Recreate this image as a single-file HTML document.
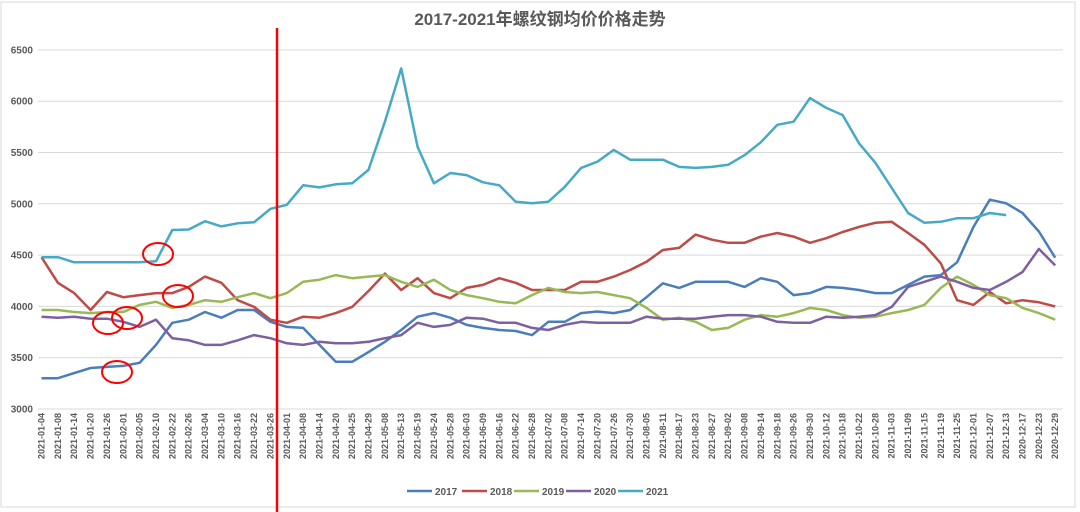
<!DOCTYPE html>
<html><head><meta charset="utf-8"><style>
html,body{margin:0;padding:0;background:#fff;}
svg{display:block;font-family:"Liberation Sans","Noto Sans CJK SC",sans-serif;}
</style></head><body>
<svg id="chart" width="1080" height="512" viewBox="0 0 1080 512" xmlns="http://www.w3.org/2000/svg">
<rect x="1" y="2" width="1074" height="505" fill="#fff" stroke="#d9d9d9" stroke-width="1"/>
<text x="540" y="25" text-anchor="middle" font-size="17" font-weight="bold" fill="#595959">2017-2021年螺纹钢均价价格走势</text>
<g id="grid"></g>
<g id="yaxis"></g>
<g id="xaxis"></g>
<g id="series"></g>
<g id="annot"></g>
<g id="legend"></g>
</svg>
<script>
const categories = ["2021-01-04","2021-01-08","2021-01-14","2021-01-20","2021-01-26","2021-02-01","2021-02-05","2021-02-10","2021-02-22","2021-02-26","2021-03-04","2021-03-10","2021-03-16","2021-03-22","2021-03-26","2021-04-01","2021-04-08","2021-04-14","2021-04-20","2021-04-25","2021-04-29","2021-05-08","2021-05-13","2021-05-19","2021-05-24","2021-05-28","2021-06-03","2021-06-09","2021-06-16","2021-06-22","2021-06-28","2021-07-02","2021-07-08","2021-07-14","2021-07-20","2021-07-26","2021-07-30","2021-08-05","2021-08-11","2021-08-17","2021-08-23","2021-08-27","2021-09-02","2021-09-08","2021-09-14","2021-09-18","2021-09-26","2021-09-30","2021-10-12","2021-10-18","2021-10-22","2021-10-28","2021-11-03","2021-11-09","2021-11-15","2021-11-19","2021-11-25","2021-12-01","2021-12-07","2021-12-13","2020-12-17","2020-12-23","2020-12-29"];
const s2017 = [3300,3300,3350,3400,3410,3420,3450,3625,3840,3870,3945,3890,3965,3965,3850,3800,3790,3625,3460,3460,3555,3655,3770,3900,3935,3890,3820,3790,3770,3760,3720,3850,3850,3935,3950,3935,3965,4090,4225,4180,4240,4240,4240,4190,4275,4240,4110,4130,4190,4180,4160,4130,4130,4210,4290,4305,4430,4775,5040,5005,4910,4730,4475];
const s2018 = [4480,4230,4130,3965,4140,4090,4110,4130,4130,4190,4290,4230,4060,3995,3870,3840,3900,3890,3935,3995,4150,4320,4160,4275,4130,4080,4180,4210,4275,4230,4160,4160,4160,4240,4240,4290,4355,4435,4550,4570,4700,4650,4620,4620,4680,4715,4680,4620,4665,4725,4775,4815,4825,4715,4600,4420,4060,4015,4140,4030,4060,4040,4000];
const s2019 = [3965,3965,3945,3935,3945,3945,4015,4045,3985,4015,4060,4045,4090,4130,4080,4130,4240,4260,4305,4275,4290,4305,4240,4190,4260,4160,4110,4080,4045,4030,4110,4180,4140,4130,4140,4110,4080,3985,3870,3890,3850,3770,3790,3870,3915,3900,3935,3985,3965,3915,3890,3900,3935,3965,4015,4180,4290,4210,4110,4080,3985,3935,3870];
const s2020 = [3900,3890,3900,3880,3880,3850,3800,3870,3690,3670,3625,3625,3670,3720,3690,3640,3625,3655,3640,3640,3655,3690,3720,3840,3800,3820,3890,3880,3840,3840,3790,3770,3820,3850,3840,3840,3840,3900,3880,3880,3880,3900,3915,3915,3900,3850,3840,3840,3900,3890,3900,3915,3995,4190,4240,4290,4240,4180,4160,4240,4335,4560,4400];
const s2021 = [4480,4480,4430,4430,4430,4430,4430,4440,4745,4750,4830,4780,4810,4820,4950,4990,5180,5160,5190,5200,5330,5800,6320,5555,5200,5300,5280,5210,5180,5020,5005,5020,5165,5350,5410,5525,5430,5430,5430,5360,5350,5360,5380,5475,5600,5770,5800,6030,5935,5865,5590,5400,5155,4910,4815,4825,4860,4860,4910,4890,null,null,null];
const seriesNames = ["2017","2018","2019","2020","2021"];
const seriesColors = ["#4a7ebb","#be4b48","#98b954","#7d60a0","#46aac5"];
const yTicks = [3000,3500,4000,4500,5000,5500,6000,6500];

const NS="http://www.w3.org/2000/svg";
const X0=41.5, XSTEP=16.35, Y0=409, YPX=51.3/500;
function xs(i){return X0+i*XSTEP;}
function ys(v){return Y0-(v-3000)*YPX;}
function mk(tag,attrs,parent){const e=document.createElementNS(NS,tag);for(const k in attrs)e.setAttribute(k,attrs[k]);parent.appendChild(e);return e;}

const grid=document.getElementById('grid'), yaxis=document.getElementById('yaxis'), xaxis=document.getElementById('xaxis');
yTicks.forEach(t=>{
  const l=mk('line',{x1:38,x2:1063,y1:ys(t),y2:ys(t),stroke:'#d9d9d9','stroke-width':1},grid);
  
  
  const tx=mk('text',{x:33,y:ys(t)+3.5,'text-anchor':'end','font-size':10,'font-weight':'bold',fill:'#595959'},yaxis);
  tx.textContent=t;
  
  
});
categories.forEach((c,i)=>{
  const x=xs(i)+3;
  const tx=mk('text',{x:x,y:413,'text-anchor':'end','font-size':9,'font-weight':'bold',fill:'#595959',transform:'rotate(-90 '+x+' 413)'},xaxis);
  tx.textContent=c;
  
  
});
const allSeries=[s2017,s2018,s2019,s2020,s2021];
const sg=document.getElementById('series');
allSeries.forEach((s,k)=>{
  let d='';let pen=false;
  s.forEach((v,i)=>{if(v===null){pen=false;return;}d+=(pen?'L':'M')+xs(i).toFixed(1)+' '+ys(v).toFixed(1);pen=true;});
  const p=mk('path',{d:d,fill:'none',stroke:seriesColors[k],'stroke-width':2.5,'stroke-linejoin':'round'},sg);
  
  
});
const an=document.getElementById('annot');
const vl=mk('line',{x1:277,x2:277,y1:28,y2:512,stroke:'#ff0000','stroke-width':2.5},an);


[[158,254],[178,296],[108,323],[127,318],[117,372]].forEach(c=>{
  const e=mk('ellipse',{cx:c[0],cy:c[1],rx:15,ry:11,fill:'none',stroke:'#ff0000','stroke-width':2},an);
  
  
});
const lg=document.getElementById('legend');
const lx=[407,462,514,566,618];
seriesNames.forEach((n,k)=>{
  const l=mk('line',{x1:lx[k],x2:lx[k]+25,y1:491,y2:491,stroke:seriesColors[k],'stroke-width':2.5},lg);
  
  
  const t=mk('text',{x:lx[k]+28,y:495,'font-size':10,'font-weight':'bold',fill:'#595959'},lg);
  t.textContent=n;
  
  
});
</script>
</body></html>
